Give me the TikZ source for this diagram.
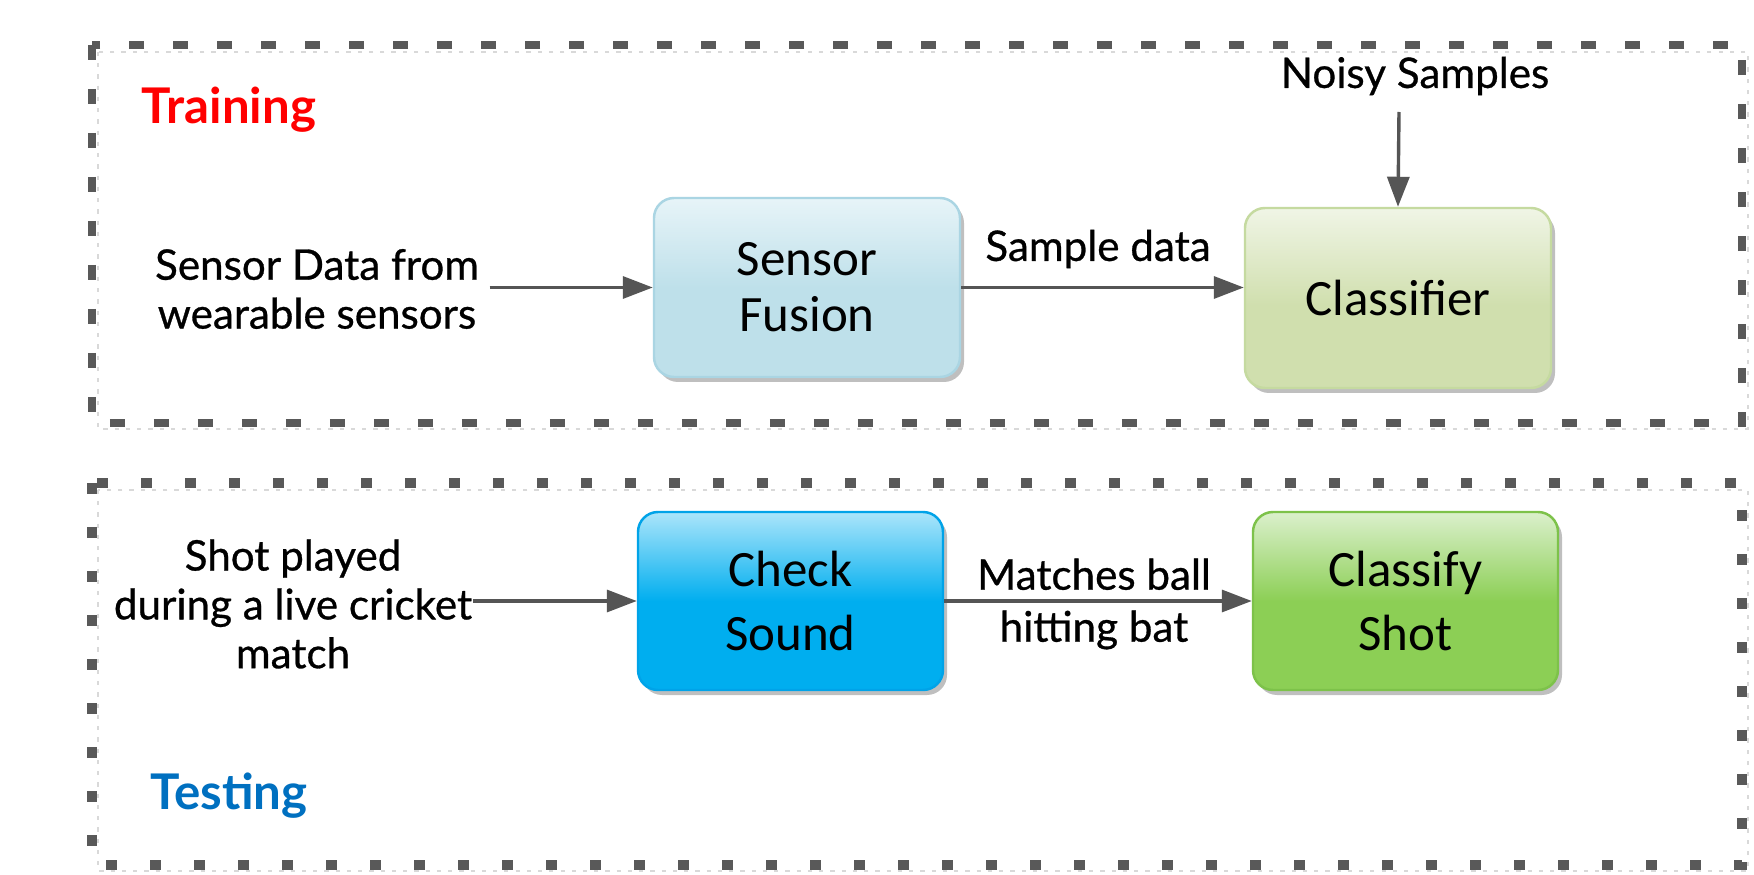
\documentclass[tikz,border=0pt]{standalone}
\usepackage{fontspec}
\setmainfont{Lato}
\newfontfamily\lblfont{Lato}[FakeBold=0.7]
\newfontfamily\boxfont{Carlito}
\usetikzlibrary{arrows.meta,shadows}

\definecolor{framegray}{HTML}{595959}
\definecolor{arrowgray}{HTML}{555555}
\definecolor{trainred}{HTML}{FF0000}
\definecolor{testblue}{HTML}{0070C0}
\definecolor{fusiontop}{RGB}{231,244,248}
\definecolor{fusionbot}{RGB}{190,224,234}
\definecolor{fusionline}{RGB}{170,213,227}
\definecolor{classtop}{RGB}{240,245,230}
\definecolor{classbot}{RGB}{208,223,174}
\definecolor{classline}{RGB}{197,218,160}
\definecolor{checktop}{RGB}{171,229,250}
\definecolor{checkbot}{RGB}{0,174,239}
\definecolor{checkline}{RGB}{0,163,232}
\definecolor{shottop}{RGB}{219,240,204}
\definecolor{shotbot}{RGB}{140,207,85}
\definecolor{shotline}{RGB}{125,194,74}

% bottom half flat, top half fades to the light colour
\pgfdeclareverticalshading{fusionshade}{100bp}{color(0bp)=(fusionbot); color(50bp)=(fusionbot); color(75bp)=(fusiontop); color(100bp)=(fusiontop)}
\pgfdeclareverticalshading{classshade}{100bp}{color(0bp)=(classbot); color(48bp)=(classbot); color(75bp)=(classtop); color(100bp)=(classtop)}
\pgfdeclareverticalshading{checkshade}{100bp}{color(0bp)=(checkbot); color(50bp)=(checkbot); color(75bp)=(checktop); color(100bp)=(checktop)}
\pgfdeclareverticalshading{shotshade}{100bp}{color(0bp)=(shotbot); color(50bp)=(shotbot); color(75bp)=(shottop); color(100bp)=(shottop)}

\tikzset{
  box/.style={draw, rounded corners=0.2cm, minimum width=3.06cm, minimum height=1.79cm,
    align=center, line width=0.7pt, font=\boxfont\fontsize{14.5}{16}\selectfont,
    drop shadow={shadow xshift=0.04cm, shadow yshift=-0.05cm, fill=black, opacity=0.25}},
  arr/.style={-{Triangle[length=0.3cm,width=0.22cm]}, line width=0.034cm, draw=arrowgray},
  lbl/.style={align=center, inner sep=0pt, font=\lblfont\fontsize{12}{13.9}\selectfont},
  title/.style={font=\bfseries\fontsize{14}{16}\selectfont},
  frame/.style={draw=framegray, line width=0.08cm, dash pattern=on 0.15cm off 0.29cm},
  frameshade/.style={draw=black!15, line width=0.5pt, dash pattern=on 1.2pt off 2pt},
}

\begin{document}
\begin{tikzpicture}
  \fill[white] (0,0) rectangle (17.54,8.74);
  \useasboundingbox (0,0) rectangle (17.54,8.74);

  % training part
  \draw[frameshade] (0.98,8.22) rectangle (17.48,4.45);
  \draw[frame] (0.92,8.29) rectangle (17.42,4.51);
  \node[title, text=trainred] (training) at (2.29,7.64) {Training};

  \node[lbl] (sensordata) at (3.17,5.85) {Sensor Data from\\wearable sensors};
  \node[box, draw=fusionline, shade, shading=fusionshade] (fusion) at (8.07,5.865) {Sensor\\Fusion};
  \node[box, draw=classline, shade, shading=classshade, minimum height=1.80cm] (classifier) at (13.98,5.76) {Classifier};
  \node[lbl] (noisy) at (14.15,7.98) {Noisy Samples};
  \coordinate (noisyin) at (13.99,7.62);

  \draw[arr] (sensordata.east |- fusion.west) ++(0.1,0) -- (fusion.west);
  \draw[arr] (fusion.east) -- (fusion.east -| classifier.west);
  \node[lbl] (sample) at (10.98,6.25) {Sample data};
  \draw[arr] (noisyin) -- (classifier.north);

  % testing part
  \draw[frameshade] (0.98,3.84) rectangle (17.48,0.03);
  \draw[frame, line width=0.1cm, dash pattern=on 0.11cm off 0.33cm] (0.92,3.91) rectangle (17.42,0.09);
  \node[title, text=testblue] (testing) at (2.29,0.78) {Testing};

  \node[lbl] (shot) at (2.93,2.70) {Shot played\\during a live cricket\\match};
  \node[box, draw=checkline, shade, shading=checkshade, minimum width=3.05cm, minimum height=1.78cm,
    font=\boxfont\fontsize{14.5}{18}\selectfont] (check) at (7.905,2.73) {Check\\Sound};
  \node[box, draw=shotline, shade, shading=shotshade, minimum width=3.05cm, minimum height=1.78cm,
    font=\boxfont\fontsize{14.5}{18}\selectfont] (classify) at (14.055,2.73) {Classify\\Shot};

  \draw[arr] (shot.east |- check.west) -- (check.west);
  \draw[arr] (check.east) -- (check.east -| classify.west);
  \node[lbl, font=\lblfont\fontsize{12}{14.8}\selectfont] (matches) at (10.94,2.70) {Matches ball\\hitting bat};
\end{tikzpicture}
\end{document}
